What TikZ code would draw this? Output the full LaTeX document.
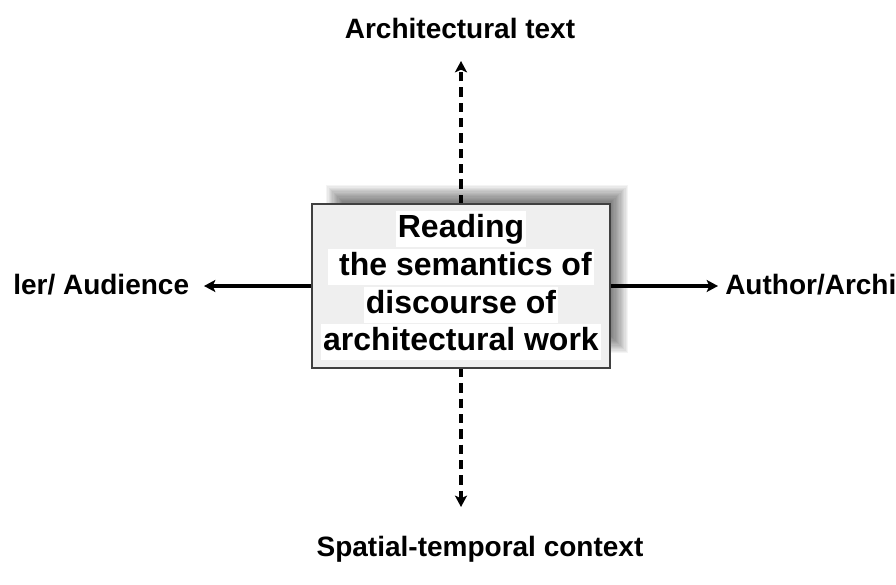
\documentclass[tikz,border=0pt]{standalone}
\usepackage{fontspec}
\setmainfont{Liberation Sans}
\usetikzlibrary{arrows.meta}
\definecolor{boxgray}{HTML}{EFEFEF}
\definecolor{edgegray}{HTML}{404040}
\tikzset{
  axistext/.style={inner sep=0pt, font=\bfseries\fontsize{21}{25}\selectfont},
  linetext/.style={fill=white, inner sep=1.5pt, text height=18pt, text depth=5.5pt,
    font=\bfseries\fontsize{24}{29}\selectfont},
  arrowline/.style={line width=2.6pt, -{Stealth[length=8.5pt,width=9pt,inset=2pt]}},
}
\begin{document}
\begin{tikzpicture}[x=0.75pt,y=-0.75pt]
  \useasboundingbox (0,0) rectangle (896,585);
  \fill[white] (0,0) rectangle (896,585);
  % soft shadow behind the box
  \foreach \i in {-10,-8.75,...,10}
    \fill[black,opacity=0.042] (336+\i,195+\i) rectangle (618-\i,343-\i);
  \draw
    (460,28) node[axistext] (0){Architectural text}
    (13,285) node[axistext,anchor=west] (1){ler/ Audience}
    (725,285) node[axistext,anchor=west] (2){Author/Archi}
    (480,549) node[axistext] (3){Spatial-temporal context};
  \coordinate (t) at (461,61);
  \coordinate (l) at (204,286);
  \coordinate (r) at (718,286);
  \coordinate (b) at (461,507);
  \begin{scope}[arrowline]
    \draw[dash pattern=on 7pt off 4.5pt] (461,204) -- (t);
    \draw[dash pattern=on 7pt off 4.5pt] (461,368) -- (b);
    \draw[line width=2.4pt] (312,286) -- (l);
    \draw[line width=2.4pt] (610,286) -- (r);
  \end{scope}
  \node[draw=edgegray, line width=1.5pt, fill=boxgray,
        minimum width=223.5pt, minimum height=123pt] (box) at (461,286) {};
  \draw
    (461,229) node[linetext] (4){Reading}
    (461,267) node[linetext] (5){\ the semantics of}
    (461,305) node[linetext] (6){discourse of}
    (461,342) node[linetext] (7){architectural work};
\end{tikzpicture}
\end{document}
